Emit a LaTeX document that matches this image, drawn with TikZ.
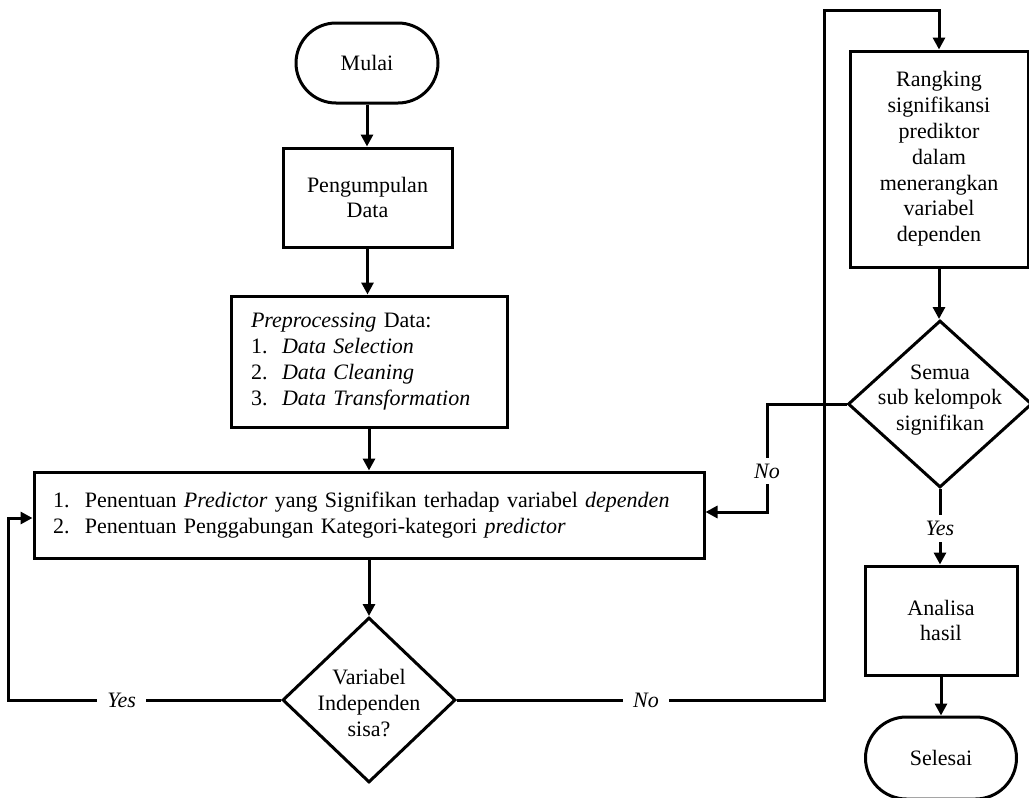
\documentclass[tikz,border=0pt]{standalone}
\usepackage{fontspec}
\setmainfont{Liberation Serif}
\usetikzlibrary{arrows.meta,shapes.geometric}
\begin{document}
\begin{tikzpicture}[x=1pt,y=-1pt,
  every node/.style={font=\fontsize{22}{25.8}\selectfont},
  proc/.style={draw, line width=3pt, align=center, inner sep=0pt},
  term/.style={draw, line width=3pt, rounded corners=40pt, inner sep=0pt},
  dec/.style={draw, diamond, line width=3pt, inner sep=0pt},
  dtext/.style={align=center, inner sep=0pt},
  arr/.style={line width=3pt, -{Triangle[width=12pt,length=12pt]}},
  lbl/.style={fill=white, inner xsep=10pt, inner ysep=6pt, font=\fontsize{22}{25.8}\selectfont\itshape}
]
\useasboundingbox (0,0) rectangle (1029,798);

% left column
\node[term, minimum width=142pt, minimum height=80pt] (mulai) at (367,63) {Mulai};
\node[proc, minimum width=169pt, minimum height=99pt] (peng) at (367.5,197.5) {Pengumpulan\\Data};
\node[proc, align=left, text width=236pt, inner xsep=20pt, minimum height=131pt] (prep) at (369,361.5)
  {\textit{Preprocessing} Data:\\
   \makebox[31pt][l]{1.}\textit{Data Selection}\\
   \makebox[31pt][l]{2.}\textit{Data Cleaning}\\
   \makebox[31pt][l]{3.}\textit{Data Transformation}};
\node[proc, align=left, text width=632pt, inner xsep=19pt, minimum height=86pt] (big) at (369,515)
  {\makebox[32pt][l]{1.}Penentuan \textit{Predictor} yang Signifikan terhadap variabel \textit{dependen}\\
   \makebox[32pt][l]{2.}Penentuan Penggabungan Kategori-kategori \textit{predictor}};
\node[dec, minimum width=173pt, minimum height=165pt] (var) at (369,700) {};
\node[dtext] (varT) at (369,703) {Variabel\\Independen\\sisa?};

% right column
\node[proc, minimum width=178pt, minimum height=216pt] (rang) at (939,159)
  {Rangking\\signifikansi\\prediktor\\dalam\\menerangkan\\variabel\\dependen};
\node[dec, minimum width=184pt, minimum height=167pt] (sem) at (940,404) {};
\node[dtext] (semT) at (940,400) {Semua\\sub kelompok\\signifikan};
\node[proc, minimum width=152pt, minimum height=109pt] (ana) at (941,620.5) {Analisa\\hasil};
\node[term, minimum width=151pt, minimum height=82pt, rounded corners=41pt] (sel) at (941,758) {Selesai};

% routing points
\coordinate (yc) at (8,700);
\coordinate (nc1) at (824,700);
\coordinate (nc2) at (824,10);
\coordinate (sc1) at (767,404);
\coordinate (sc2) at (767,512);

% connectors
\draw[arr] (mulai.south) -- (mulai.south |- peng.north);
\draw[arr] (peng.south) -- (peng.south |- prep.north);
\draw[arr] (prep.south) -- (prep.south |- big.north);
\draw[arr] (big.south -| var.north) -- (var.north);
\draw[arr] (var.west) -- node[lbl,pos=0.584]{Yes} (yc) |- ([yshift=-3pt]big.west);
\draw[arr] (var.east) -- node[lbl,pos=0.515]{No} (nc1) -- (nc2) -| (rang.north);
\draw[arr] (rang.south) -- (rang.south |- sem.north);
\draw[arr] (sem.west) -- (sc1) -- node[lbl,pos=0.62]{No} (sc2) -- (sc2 -| big.east);
\draw[arr] (sem.south) -- node[lbl,pos=0.52]{Yes} (sem.south |- ana.north);
\draw[arr] (ana.south) -- (ana.south |- sel.north);
\end{tikzpicture}
\end{document}
